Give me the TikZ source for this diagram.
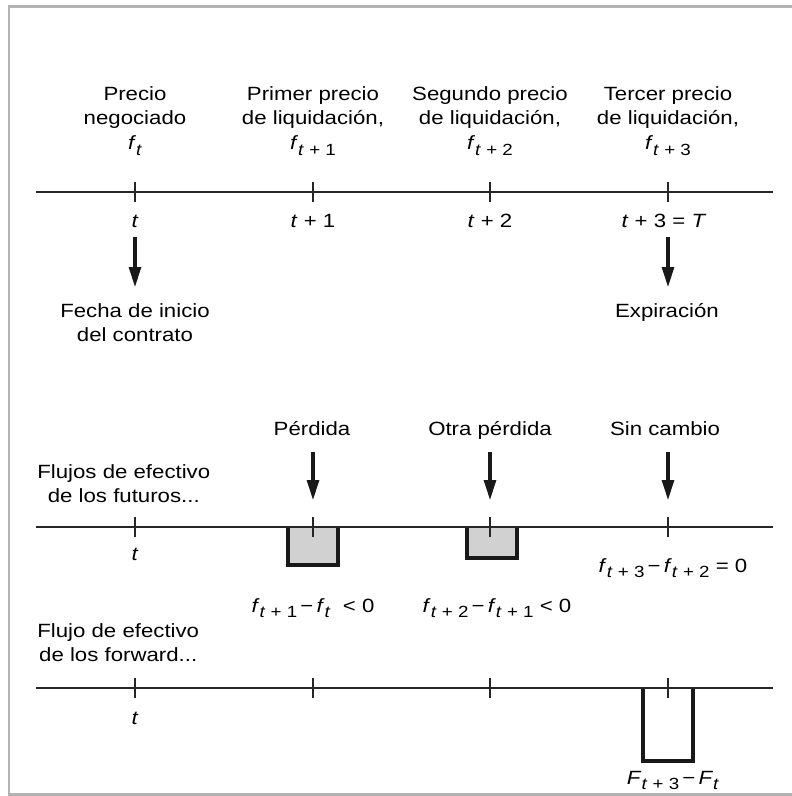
\documentclass[tikz,border=0pt]{standalone}
\usepackage{fontspec}
\setmainfont{Liberation Sans}[FakeStretch=1.16]
\usetikzlibrary{positioning}
\usetikzlibrary{arrows.meta}

\newcommand{\subtx}[1]{\raisebox{-0.55ex}{\fontsize{9.2}{9.5}\selectfont #1}}
\newcommand{\vf}[2]{\textit{#1}\subtx{#2}}
\newcommand{\ti}{\textit{t}}

\begin{document}
\begin{tikzpicture}[
    x=0.02cm, y=-0.02cm,
    %% ── Styles ──────────────────────────────────────────────────
    every node/.style={font=\fontsize{10.9}{13.6}\selectfont, inner sep=0pt},
    toplbl/.style ={align=center, anchor=north},
    axlbl/.style  ={anchor=base},
    sidelbl/.style={align=center, anchor=north west},
    axisline/.style={line width=0.9pt, draw=black!85},
    ticmark/.style ={line width=0.7pt, draw=black!85},
    arr/.style    ={-{Triangle[length=0.4cm, width=0.24cm]}, line width=1.8pt, draw=black!90, fill=black!90},
    lossbox/.style={line width=2.1pt, fill=black!18, draw=black!90},
    fwdbox/.style ={line width=2.1pt, fill=white, draw=black!90},
    frame/.style  ={line width=1.7pt, draw=black!30}
]
    \useasboundingbox (0,0) rectangle (792,796);

    %% ── Frame ───────────────────────────────────────────────────
    \draw[frame] (792,6) -- (9,6) -- (9,794) -- (792,794);

    %% ── Price labels ────────────────────────────────────────────
    \node[toplbl] (neg)  at (135,86) {Precio\\negociado\\[1pt]\vf{f}{\ti}};
    \node[toplbl] (liq1) at (313,86) {Primer precio\\de liquidación,\\[1pt]\vf{f}{\ti{} + 1}};
    \node[toplbl] (liq2) at (490,86) {Segundo precio\\de liquidación,\\[1pt]\vf{f}{\ti{} + 2}};
    \node[toplbl] (liq3) at (668,86) {Tercer precio\\de liquidación,\\[1pt]\vf{f}{\ti{} + 3}};

    %% ── Time lines ──────────────────────────────────────────────
    \fill[lossbox] (288,527) -- (288,565) -- (338,565) -- (338,527);
    \draw[lossbox, fill=none] (288,527) -- (288,565) -- (338,565) -- (338,527);
    \fill[lossbox] (467,527) -- (467,558) -- (517,558) -- (517,527);
    \draw[lossbox, fill=none] (467,527) -- (467,558) -- (517,558) -- (517,527);
    \draw[fwdbox] (643,688) -- (643,761) -- (693,761) -- (693,688);

    \foreach \y in {192,527,688} {
        \draw[axisline] (36,\y) -- (773,\y);
        \foreach \x in {135,313,490,668}
            \draw[ticmark] (\x,\y-10) -- (\x,\y+10);
    }

    \node[axlbl] (t0) at (135,227) {\ti};
    \node[axlbl] (t1) at (313,227) {\ti{} + 1};
    \node[axlbl] (t2) at (490,227) {\ti{} + 2};
    \node[axlbl] (t3) at (664,227) {\ti{} + 3 = \textit{T}};

    \node[toplbl] (fecha) at (135,303) {Fecha de inicio\\del contrato};
    \node[toplbl] (expi)  at (667,303) {Expiración};

    %% ── Futures ─────────────────────────────────────────────────
    \node[sidelbl] (fut) at (37,464) {Flujos de efectivo\\de los futuros...};
    \node[axlbl] (perd) at (312,435) {Pérdida};
    \node[axlbl] (otra) at (490,435) {Otra pérdida};
    \node[axlbl] (sinc) at (665,435) {Sin cambio};

    \node[axlbl] (tf)   at (135,560) {\ti};
    \node[axlbl] (dif3) at (673,572) {\vf{f}{\ti{} + 3}\,−\,\vf{f}{\ti{} + 2} = 0};
    \node[axlbl] (dif1) at (313,612) {\vf{f}{\ti{} + 1}\,−\,\vf{f}{\ti}\ \ < 0};
    \node[axlbl] (dif2) at (497,612) {\vf{f}{\ti{} + 2}\,−\,\vf{f}{\ti{} + 1} < 0};

    %% ── Forward ─────────────────────────────────────────────────
    \node[sidelbl] (fwd) at (37,623) {Flujo de efectivo\\de los forward...};
    \node[axlbl] (tw)   at (135,724) {\ti};
    \node[axlbl] (difF) at (673,784) {\vf{F}{\ti{} + 3}\,−\,\vf{F}{\ti}};

    %% ── Arrows ──────────────────────────────────────────────────
    \coordinate (s0) at (135,237);
    \coordinate (s3) at (668,237);
    \coordinate (p1) at (313,500);
    \coordinate (p2) at (490,500);
    \coordinate (p3) at (668,500);

    \draw[arr, shorten >=0.32cm] (s0) -- (s0 |- fecha.north);
    \draw[arr, shorten >=0.32cm] (s3) -- (s3 |- expi.north);
    \draw[arr, shorten <=0.34cm] (p1 |- perd.base) -- (p1);
    \draw[arr, shorten <=0.34cm] (p2 |- otra.base) -- (p2);
    \draw[arr, shorten <=0.34cm] (p3 |- sinc.base) -- (p3);

\end{tikzpicture}
\end{document}
